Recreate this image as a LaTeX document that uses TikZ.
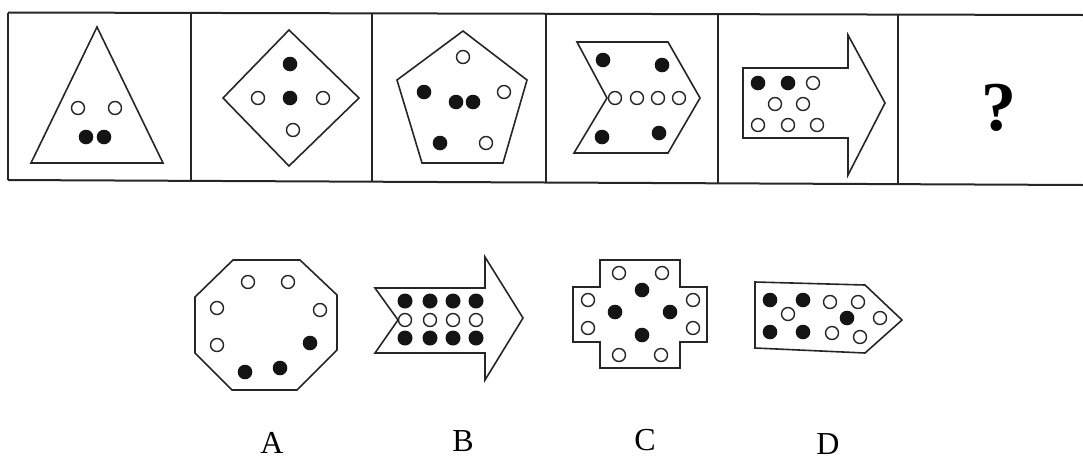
\documentclass[tikz,border=0pt]{standalone}
\usepackage{fontspec}
\setmainfont{Liberation Serif}
\begin{document}
\begin{tikzpicture}[x=1pt,y=-1pt,
  shp/.style={draw=black!85,line width=1.6pt,line join=miter},
  tbl/.style={draw=black!85,line width=2pt},
  oc/.style={draw=black!85,line width=1.4pt,fill=white},
  fc/.style={fill=black!92},
  lbl/.style={font=\fontsize{32}{32}\selectfont,inner sep=0pt}]
\useasboundingbox (0,0) rectangle (1083,461);
% table
\draw[tbl] (8,12.5) -- (1083,15);
\draw[tbl] (8,180) -- (1083,185);
\foreach \x/\a/\b in {8/12.5/180,191/13/180.8,372/13.4/181.6,546/13.8/182.4,718/14.2/183.2,898/14.6/184}
  \draw[tbl,line width=1.5pt] (\x,\a) -- (\x,\b);
% 1 triangle
\draw[shp] (97,27) -- (31,163) -- (163,163) -- cycle;
\foreach \p in {(78,108),(115,108)} \draw[oc] \p circle (6.5);
\foreach \p in {(86,137),(104,137)} \fill[fc] \p circle (7.3);
% 2 diamond
\draw[shp] (289,30) -- (359,98) -- (289,166) -- (223,98) -- cycle;
\foreach \p in {(290,64),(290,98)} \fill[fc] \p circle (7.3);
\foreach \p in {(258,98),(323,98),(293,130)} \draw[oc] \p circle (6.5);
% 3 pentagon
\draw[shp] (463,31) -- (527,80) -- (503,163) -- (422,163) -- (397,80) -- cycle;
\foreach \p in {(463,57),(504,92),(486,143)} \draw[oc] \p circle (6.5);
\foreach \p in {(424,92),(456,102),(473,102),(440,143)} \fill[fc] \p circle (7.3);
% 4 chevron
\draw[shp] (577,42) -- (668,42) -- (700,98) -- (668,153) -- (574,153) -- (607,98) -- cycle;
\foreach \p in {(603,60),(662,65),(602,137),(659,133)} \fill[fc] \p circle (7.3);
\foreach \x in {615,637,658,679} \draw[oc] (\x,98) circle (6.5);
% 5 arrow
\draw[shp] (743,68) -- (848,68) -- (848,35) -- (885,103) -- (848,175) -- (848,138) -- (743,138) -- cycle;
\foreach \p in {(758,83),(788,83)} \fill[fc] \p circle (7.3);
\foreach \p in {(813,83),(775,104),(803,104),(758,125),(788,125),(817,125)} \draw[oc] \p circle (6.5);
% question mark
\node[inner sep=0pt,font=\fontsize{70}{70}\selectfont\bfseries] (q) at (999,108) {?};
% A octagon
\draw[shp] (233,260) -- (300,260) -- (337,295) -- (337,350) -- (297,390) -- (232,390) -- (195,353) -- (195,297) -- cycle;
\foreach \p in {(248,282),(288,282),(217,308),(320,310),(217,345)} \draw[oc] \p circle (6.5);
\foreach \p in {(310,343),(280,368),(245,372)} \fill[fc] \p circle (7.3);
% B arrow
\draw[shp] (375,288) -- (485,288) -- (485,257) -- (523,318) -- (485,380) -- (485,353) -- (375,353) -- (398,320) -- cycle;
\foreach \x in {405,430,453,476} {
  \fill[fc] (\x,301) circle (7.5);
  \draw[oc] (\x,320) circle (6.5);
  \fill[fc] (\x,338) circle (7.5);
}
% C cross
\draw[shp] (600,260) -- (680,260) -- (680,287) -- (707,287) -- (707,342) -- (680,342) -- (680,368) -- (600,368) -- (600,342) -- (573,342) -- (573,287) -- (600,287) -- cycle;
\foreach \p in {(619,273),(662,273),(588,300),(693,300),(588,328),(693,328),(619,355),(661,355)} \draw[oc] \p circle (6.5);
\foreach \p in {(642,290),(615,312),(670,312),(642,335)} \fill[fc] \p circle (7.3);
% D pentagon arrow
\draw[shp] (755,282) -- (865,285) -- (902,320) -- (865,353) -- (755,348) -- cycle;
\foreach \p in {(770,300),(803,300),(770,332),(803,332),(847,318)} \fill[fc] \p circle (7.3);
\foreach \p in {(788,314),(830,302),(858,302),(880,318),(832,333),(860,337)} \draw[oc] \p circle (6.5);
% labels
\node[lbl] (la) at (272,443) {A};
\node[lbl] (lb) at (463,441) {B};
\node[lbl] (lc) at (645,440) {C};
\node[lbl] (ld) at (828,444) {D};
\end{tikzpicture}
\end{document}
